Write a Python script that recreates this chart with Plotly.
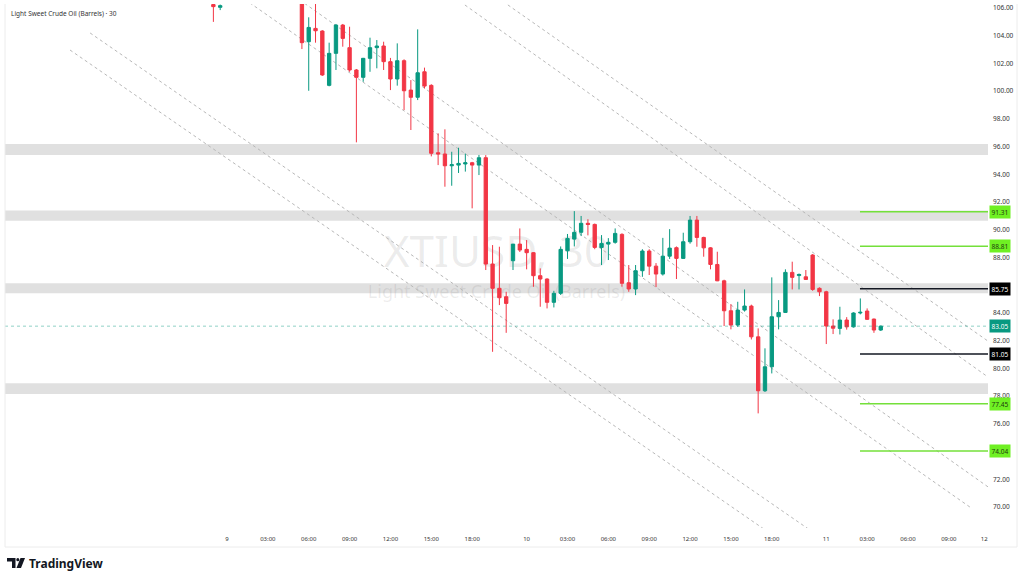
import plotly.graph_objects as go

# ---------------- data ----------------
bar_index = [-2, -1, 11, 12, 13, 14, 15, 16, 17, 18, 19, 20, 21, 22, 23, 24, 25, 26, 27, 28, 29, 30,
             31, 32, 33, 34, 35, 36, 37, 38, 39, 40, 41, 42, 43, 44, 45, 46, 47, 48, 49, 50,
             51, 52, 53, 54, 55, 56, 57, 58, 59, 60, 61, 62, 63, 64, 65, 66, 67, 68, 69, 70,
             71, 72, 73, 74, 75, 76, 77, 78, 79, 80, 81, 82, 83, 84, 85, 86, 87, 88, 89, 90,
             91, 92, 93, 94, 95, 96]
open_ = [106.25, 106.05, 106.6, 103.57, 104.53, 104.34, 100.42, 102.73, 104.77, 103.14, 101.53, 101.0,
         102.37, 103.14, 103.26, 102.13, 100.88, 102.2, 100.08, 99.56, 101.4, 100.42,
         95.56, 95.47, 94.62, 94.67, 94.75, 94.84, 94.67, 95.2, 87.53, 85.78, 85.17, 87.77, 88.97, 88.59,
         88.35, 86.69, 86.45, 84.77, 85.42, 88.49, 89.33, 89.82, 90.47, 90.39, 88.73, 88.97, 89.1, 89.67,
         86.18, 85.73, 87.05, 88.47, 87.38, 86.81, 88.1, 88.71, 87.94, 89.14, 90.7, 89.45,
         88.7, 87.5, 86.32, 84.16, 83.13, 84.21, 84.5, 82.28, 78.39, 80.12, 83.73, 84.04, 86.93, 86.7,
         86.61, 88.18, 85.78, 85.53, 83.06, 82.89, 83.49, 83.0, 84.0, 84.14, 83.56, 82.77]
high = [106.35, 106.25, 106.8, 105.33, 106.5, 104.4, 103.5, 104.85, 104.85, 104.65, 101.6, 102.4,
        103.86, 103.69, 103.57, 102.4, 103.45, 102.3, 100.8, 104.46, 101.7, 100.5,
        96.96, 97.25, 95.63, 95.92, 95.5, 94.9, 95.4, 95.39, 88.9, 88.78, 85.53, 88.97, 90.1, 89.26,
        88.4, 87.22, 86.5, 85.6, 88.8, 89.7, 91.35, 91.0, 90.76, 90.45, 89.62, 89.4, 90.1, 89.75,
        87.46, 87.46, 88.6, 88.6, 87.6, 89.42, 90.05, 88.8, 89.79, 91.0, 91.0, 89.5,
        88.75, 88.42, 86.4, 84.64, 84.81, 85.7, 84.6, 82.89, 81.45, 86.57, 84.93, 87.15, 87.7, 86.85,
        87.1, 88.25, 85.85, 85.6, 83.54, 84.45, 83.7, 84.05, 85.05, 84.33, 83.6, 83.1]
low = [105.0, 105.85, 103.04, 100.03, 103.5, 101.1, 100.35, 101.53, 103.21, 101.4, 96.31, 100.68,
       101.4, 101.65, 101.53, 100.08, 100.4, 98.64, 97.2, 99.36, 100.2, 95.3,
       94.67, 93.11, 93.18, 94.1, 94.2, 91.55, 93.95, 87.1, 81.2, 84.57, 82.57, 87.1, 88.4, 87.15,
       85.89, 84.45, 84.33, 84.4, 85.3, 87.9, 88.8, 89.55, 89.6, 88.6, 87.46, 87.82, 89.0, 85.9,
       85.53, 85.29, 86.61, 86.74, 85.87, 86.7, 87.9, 86.45, 87.9, 89.0, 88.78, 88.06,
       87.15, 86.3, 83.06, 82.82, 83.0, 84.1, 82.09, 76.76, 78.3, 79.64, 82.82, 84.0, 85.7, 85.7,
       86.4, 85.6, 85.22, 81.76, 82.48, 82.45, 82.8, 82.95, 83.9, 83.5, 82.57, 82.7]
close = [106.1, 106.17, 103.5, 104.6, 104.36, 101.17, 102.73, 104.77, 103.81, 101.53, 101.0, 102.37,
         103.14, 103.26, 102.13, 100.88, 102.2, 100.03, 99.56, 101.33, 100.37, 95.52,
         95.47, 94.62, 94.7, 94.79, 94.84, 94.67, 95.2, 87.53, 85.78, 85.1, 84.69, 88.97, 88.54, 88.35,
         86.69, 86.45, 84.77, 85.42, 88.59, 89.38, 89.82, 90.47, 90.39, 88.73, 89.02, 89.1, 89.74, 86.14,
         85.73, 87.05, 88.47, 87.38, 86.81, 88.1, 88.68, 87.94, 89.14, 90.7, 89.45, 88.7,
         87.5, 86.32, 84.16, 83.13, 84.21, 84.5, 82.28, 78.39, 80.12, 83.73, 84.04, 86.93, 86.57, 86.78,
         86.42, 85.7, 85.53, 83.06, 82.9, 83.49, 83.0, 84.0, 84.05, 83.54, 82.77, 83.05]

# time-axis labels (bar index of each label)
tick_index = [0, 6, 12, 18, 24, 30, 36, 44, 50, 56, 62, 68, 74, 80, 88, 94, 100, 106, 111.2]
tick_text = ["9", "03:00", "06:00", "09:00", "12:00", "15:00", "18:00", "10", "03:00", "06:00",
             "09:00", "12:00", "15:00", "18:00", "11", "03:00", "06:00", "09:00", "12"]
price_ticks = [70, 72, 76, 78, 80, 82, 84, 86, 88, 90, 92, 94, 96, 98, 100, 102, 104, 106]

# gray support / resistance zones (low, high)
zone_low = [95.39, 90.65, 85.42, 78.15]
zone_high = [96.19, 91.40, 86.15, 78.93]

# horizontal levels drawn from bar 93 to the right edge
level_price = [91.31, 88.81, 85.75, 81.05, 77.45, 74.04]
level_kind = ["target", "target", "pivot", "pivot", "target", "target"]
level_start = 92.95
last_price = 83.05

# dashed channel lines: (start bar, start price, end bar, end price)
chan_x0 = [-23.05, -20.1, 1.9, 9.25, 33.5, 39.8]
chan_y0 = [102.97, 104.2, 106.87, 107.08, 106.72, 106.72]
chan_x1 = [84.1, 88.5, 109.1, 112.0, 113.5, 113.5]
chan_y1 = [66.63, 67.36, 70.0, 71.37, 78.77, 81.37]

X_RANGE = [-32.6, 111.75]
Y_RANGE = [68.49, 106.29]

UP = "#089981"
DOWN = "#F23645"
FONT = "Noto Sans"

fig = go.Figure()
fig.add_trace(go.Candlestick(
    x=bar_index, open=open_, high=high, low=low, close=close,
    increasing=dict(line=dict(color=UP, width=1), fillcolor=UP),
    decreasing=dict(line=dict(color=DOWN, width=1), fillcolor=DOWN),
    whiskerwidth=0, showlegend=False, hoverinfo="skip",
))

shapes = []
# zones
for lo, hi in zip(zone_low, zone_high):
    shapes.append(dict(type="rect", xref="paper", x0=0, x1=1, yref="y", y0=lo, y1=hi,
                       fillcolor="#e0e0e0", line=dict(width=0), layer="below"))
# watermark
shapes.append(dict(type="rect", xref="paper", yref="paper", x0=0, x1=1, y0=0.49, y1=0.56,
                   line=dict(width=0), fillcolor="rgba(0,0,0,0)", layer="below",
                   label=dict(text="XTIUSD, 30", textposition="middle center",
                              font=dict(family=FONT, size=44, color="rgba(110,110,110,0.13)"))))
shapes.append(dict(type="rect", xref="paper", yref="paper", x0=0, x1=1, y0=0.43, y1=0.47,
                   line=dict(width=0), fillcolor="rgba(0,0,0,0)", layer="below",
                   label=dict(text="Light Sweet Crude Oil (Barrels)", textposition="middle center",
                              font=dict(family=FONT, size=18, color="rgba(110,110,110,0.13)"))))
# channel lines
for a, b, c, d in zip(chan_x0, chan_y0, chan_x1, chan_y1):
    shapes.append(dict(type="line", xref="x", yref="y", x0=a, y0=b, x1=c, y1=d,
                       line=dict(color="#b8b8b8", width=1, dash="3px,3px"), layer="below"))
# last price line
shapes.append(dict(type="line", xref="paper", x0=0, x1=1, yref="y", y0=last_price, y1=last_price,
                   line=dict(color="rgba(8,153,129,0.45)", width=1, dash="dot")))
# levels
for p, k in zip(level_price, level_kind):
    col = "#74e03a" if k == "target" else "#131722"
    shapes.append(dict(type="line", xref="x", x0=level_start, x1=X_RANGE[1] + 5, yref="y", y0=p, y1=p,
                       line=dict(color=col, width=1.5)))

# frame of the widget
def px(xp):
    return (xp - 5) / 983.0

def py(yp):
    return (528 - yp) / 524.0

shapes.append(dict(type="line", xref="paper", yref="paper", x0=px(5), x1=px(5), y0=py(4), y1=py(547),
                   line=dict(color="#ececec", width=1)))
shapes.append(dict(type="line", xref="paper", yref="paper", x0=px(5), x1=px(1017), y0=py(547), y1=py(547),
                   line=dict(color="#ececec", width=1)))
shapes.append(dict(type="line", xref="paper", yref="paper", x0=px(1017), x1=px(1017), y0=py(4), y1=py(547),
                   line=dict(color="#ececec", width=1)))

# TradingView logo (simple glyph)
shapes.append(dict(type="path", xref="paper", yref="paper",
                   path=f"M {px(7)} {py(558)} L {px(15.5)} {py(558)} L {px(15.5)} {py(568)} L {px(12)} {py(568)} L {px(12)} {py(561.5)} L {px(7)} {py(561.5)} Z",
                   fillcolor="#131722", line=dict(width=0)))
shapes.append(dict(type="circle", xref="paper", yref="paper", x0=px(16.3), x1=px(19.3), y0=py(558), y1=py(561.3),
                   fillcolor="#131722", line=dict(width=0)))
shapes.append(dict(type="path", xref="paper", yref="paper",
                   path=f"M {px(20.5)} {py(558)} L {px(25)} {py(558)} L {px(21)} {py(568)} L {px(16.5)} {py(568)} Z",
                   fillcolor="#131722", line=dict(width=0)))

annotations = []
annotations.append(dict(xref="paper", yref="paper", x=px(9), y=py(13), xanchor="left", yanchor="middle",
                        text="Light Sweet Crude Oil (Barrels) · 30", showarrow=False,
                        font=dict(family=FONT, size=6.5, color="#333333")))
annotations.append(dict(xref="paper", yref="paper", x=px(27), y=py(563), xanchor="left", yanchor="middle",
                        text="<b>TradingView</b>", showarrow=False,
                        font=dict(family=FONT, size=12, color="#131722")))
# price boxes
for p, k in zip(level_price, level_kind):
    if k == "target":
        bg, fc = "#6ff023", "#1d3a0e"
    else:
        bg, fc = "#000000", "#ffffff"
    annotations.append(dict(xref="paper", yref="y", x=1, y=p, xanchor="left", yanchor="middle", xshift=1,
                            text=f"{p:.2f}", showarrow=False, bgcolor=bg, borderpad=1.5,
                            font=dict(family=FONT, size=6.5, color=fc)))
annotations.append(dict(xref="paper", yref="y", x=1, y=last_price, xanchor="left", yanchor="middle", xshift=1,
                        text=f"{last_price:.2f}", showarrow=False, bgcolor=UP, borderpad=1.5,
                        font=dict(family=FONT, size=6.5, color="#ffffff")))

fig.update_layout(
    width=1024, height=580,
    margin=dict(l=5, r=36, t=4, b=52),
    paper_bgcolor="white", plot_bgcolor="white",
    shapes=shapes, annotations=annotations,
    showlegend=False,
    xaxis=dict(range=X_RANGE, showgrid=False, zeroline=False, showline=False,
               tickmode="array", tickvals=tick_index, ticktext=tick_text, ticks="",
               ticklabelstandoff=6,
               tickfont=dict(family=FONT, size=6, color="#333333"),
               rangeslider=dict(visible=False), fixedrange=True),
    yaxis=dict(range=Y_RANGE, side="right", showgrid=False, zeroline=False, showline=False,
               tickmode="array", tickvals=price_ticks, ticktext=[f"{v:.2f}" for v in price_ticks],
               ticks="", ticklabelstandoff=4,
               tickfont=dict(family=FONT, size=6.5, color="#333333"), fixedrange=True),
)

fig.write_html("out.html", config={"displayModeBar": False},
               post_script="document.body.style.margin='0px';document.body.style.overflow='hidden';")
